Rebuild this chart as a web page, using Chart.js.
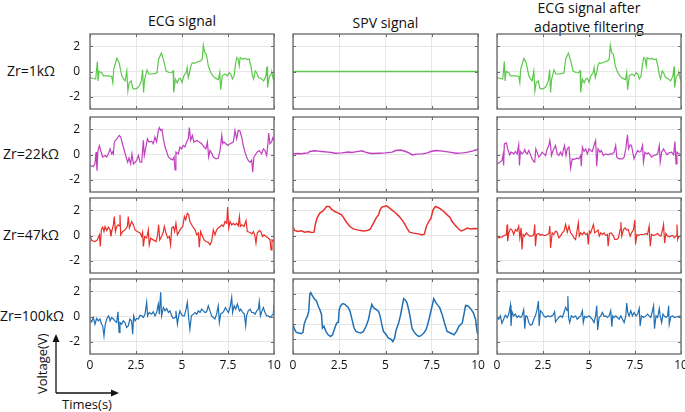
<!DOCTYPE html>
<html>
<head>
<meta charset="utf-8">
<script src="https://cdn.jsdelivr.net/npm/chart.js@4.4.1/dist/chart.umd.min.js"></script>
<style>
    html, body { margin: 0; padding: 0; background: #fff; }
    #fig { position: relative; width: 685px; height: 412px; overflow: hidden; font-family: 'Open Sans', sans-serif; color: #111; }
    #fig canvas { position: absolute; }
    .lbl { position: absolute; text-align: center; white-space: nowrap; }
    .ttl { font-size: 14px; line-height: 19px; }
    .row { font-size: 14px; line-height: 18px; }
</style>
</head>
<body>
<div id="fig">
    <div class="lbl ttl" style="left:90px;top:11px;width:184px;">ECG signal</div>
    <div class="lbl ttl" style="left:293px;top:13px;width:185px;">SPV signal</div>
    <div class="lbl ttl" style="left:497px;top:-2px;width:184px;">ECG signal after<br>adaptive filtering</div>
    <div class="lbl row" style="left:0;top:62px;width:62px;">Zr=1kΩ</div>
    <div class="lbl row" style="left:0;top:145px;width:62px;">Zr=22kΩ</div>
    <div class="lbl row" style="left:0;top:226px;width:62px;">Zr=47kΩ</div>
    <div class="lbl row" style="left:0;top:307px;width:64px;">Zr=100kΩ</div>
    <svg style="position:absolute;left:0;top:0;" width="685" height="412">
        <line x1="56" y1="393" x2="56" y2="341" stroke="#111" stroke-width="1.3"/>
        <polygon points="56,334 52.5,342 59.5,342" fill="#111"/>
        <line x1="56" y1="393" x2="112" y2="393" stroke="#111" stroke-width="1.3"/>
        <polygon points="119,393 111,389.5 111,396.5" fill="#111"/>
    </svg>
    <div class="lbl" style="left:12px;top:356px;width:60px;font-size:13px;line-height:16px;transform:rotate(-90deg);">Voltage(V)</div>
    <div class="lbl" style="left:57px;top:396px;width:60px;font-size:13px;line-height:16px;">Times(s)</div>
</div>
<script>
'use strict';

// time (s), voltage (V) pairs
var ecg1k = [[0,-0.48],[0.18,-0.56],[0.31,-0.6],[0.4,0.8],[0.44,-0.75],[0.49,0],[0.64,-0.1],[0.73,-0.35],[1.0,-0.35],[1.18,-0.4],[1.24,-0.9],[1.29,0.2],[1.46,1.05],[1.58,0.7],[1.73,-0.35],[1.82,-0.6],[1.91,-0.75],[2.0,0.05],[2.06,-1.55],[2.13,-0.9],[2.24,-0.75],[2.33,-1.35],[2.42,-1.4],[2.55,-1.35],[2.68,-1.15],[2.79,-0.75],[2.86,0.13],[2.91,-1.68],[2.97,-0.6],[3.1,0.13],[3.19,-0.2],[3.37,-0.2],[3.55,-0.15],[3.64,-0.1],[3.73,1.0],[3.88,1.47],[4.01,0.85],[4.13,0.05],[4.28,-0.08],[4.43,-0.1],[4.52,0.05],[4.55,-1.68],[4.64,-0.6],[4.74,-0.9],[4.83,-0.6],[4.92,-0.55],[5.0,-0.88],[5.1,-0.35],[5.23,-0.08],[5.28,0.3],[5.34,-0.5],[5.41,-0.1],[5.48,0.45],[5.56,0.7],[5.65,0.65],[5.74,0.7],[5.88,0.78],[6.01,0.85],[6.1,1.0],[6.16,2.1],[6.23,1.5],[6.32,1.4],[6.43,0.45],[6.56,-0.08],[6.68,-0.35],[6.83,-0.55],[6.98,-0.65],[7.05,-0.08],[7.1,-1.45],[7.19,-0.35],[7.34,-0.2],[7.47,-0.35],[7.56,-0.1],[7.65,-0.2],[7.74,-0.6],[7.83,-0.35],[7.92,0.7],[7.98,1.12],[8.05,1.0],[8.11,0.45],[8.16,1.1],[8.29,1.0],[8.43,1.05],[8.56,0.95],[8.65,1.0],[8.74,0.45],[8.83,-0.35],[8.89,-0.6],[8.98,0.05],[9.05,-0.08],[9.16,-0.48],[9.29,-0.56],[9.44,-0.75],[9.56,-0.35],[9.62,0.4],[9.65,-1.28],[9.74,-0.48],[9.84,-0.2],[9.89,-0.13],[9.96,-0.6],[10,-0.75]];

var ecg22k = [[0,-0.88],[0.18,-0.97],[0.27,-0.75],[0.33,0.2],[0.38,-1.3],[0.43,0.3],[0.51,0.72],[0.58,0.32],[0.69,-0.2],[0.82,-0.08],[0.91,-0.2],[1.0,0.05],[1.09,0.45],[1.18,0.05],[1.23,0.2],[1.27,0.05],[1.32,1.0],[1.45,1.25],[1.59,1.53],[1.67,1.4],[1.81,0.6],[1.96,-0.2],[2.05,-0.62],[2.12,-0.27],[2.21,-0.75],[2.28,0.05],[2.36,-0.75],[2.45,-0.62],[2.54,-0.48],[2.63,-0.08],[2.72,-0.62],[2.81,-0.62],[2.9,1.13],[2.95,-0.08],[3.04,0.6],[3.12,1.25],[3.21,1.0],[3.35,1.07],[3.44,0.86],[3.53,1.4],[3.62,1.0],[3.7,1.8],[3.77,2.15],[3.84,1.93],[3.91,2.0],[3.99,1.25],[4.08,0.6],[4.17,0.2],[4.26,-0.2],[4.38,-0.35],[4.49,-0.43],[4.57,-0.2],[4.62,-1.23],[4.67,0.2],[4.8,0.05],[4.89,0.6],[4.98,0.45],[5.07,0.72],[5.16,0.6],[5.25,1.0],[5.34,1.25],[5.4,2.15],[5.47,1.13],[5.56,1.53],[5.65,1.0],[5.8,1.13],[5.94,1.0],[6.07,0.86],[6.2,0.6],[6.3,0.45],[6.38,1.0],[6.45,-0.2],[6.52,0.32],[6.63,0.05],[6.7,-0.2],[6.85,-0.35],[6.97,-0.3],[7.07,0.32],[7.16,1.53],[7.21,0.86],[7.28,1.0],[7.39,0.86],[7.48,0.72],[7.61,0.86],[7.79,1.0],[7.88,1.93],[7.97,1.25],[8.06,1.93],[8.15,1.88],[8.24,1.4],[8.33,0.72],[8.42,0.2],[8.51,-0.2],[8.6,-0.48],[8.7,-0.62],[8.79,-0.43],[8.84,-1.42],[8.91,-0.2],[9.02,0.05],[9.09,0.2],[9.2,0.32],[9.33,0.05],[9.42,0.45],[9.51,0.32],[9.6,-0.08],[9.67,0.86],[9.71,1.72],[9.78,0.86],[9.87,1.0],[9.93,1.33],[10,1.13]];

var ecg47k = [[0,0.05],[0.09,-0.4],[0.27,-0.48],[0.4,-0.35],[0.51,0.05],[0.56,-0.88],[0.62,0.5],[0.69,0.67],[0.76,0.32],[0.82,0.72],[0.91,0.4],[1.0,0.67],[1.09,0.45],[1.14,-0.08],[1.2,0.45],[1.27,0.85],[1.32,1.52],[1.38,0.32],[1.45,0.72],[1.54,0.85],[1.59,0.77],[1.63,1.65],[1.67,0.05],[1.78,0.32],[1.9,0.45],[2.03,0.72],[2.08,1.52],[2.14,0.6],[2.26,1.12],[2.36,0.85],[2.45,0.45],[2.57,0.32],[2.72,0.2],[2.81,-0.08],[2.86,0.24],[2.9,-0.88],[2.97,-0.08],[3.08,-0.2],[3.17,0.45],[3.22,-0.75],[3.3,-0.2],[3.44,-0.35],[3.59,-0.48],[3.66,-0.08],[3.73,0.85],[3.79,-0.35],[3.89,-0.08],[3.99,0.32],[4.04,0.72],[4.13,0.2],[4.22,-0.2],[4.31,-0.08],[4.38,-0.75],[4.44,0.6],[4.53,0.72],[4.6,0.32],[4.67,0.98],[4.75,0.05],[4.89,0.45],[5.04,0.72],[5.13,1.52],[5.2,1.25],[5.29,1.78],[5.36,1.65],[5.43,1.12],[5.58,0.72],[5.71,0.45],[5.8,0.05],[5.89,0.2],[5.94,-0.93],[6.01,0.32],[6.12,-0.08],[6.2,-0.35],[6.3,-0.48],[6.43,-0.56],[6.52,-0.75],[6.61,-0.48],[6.7,0.45],[6.79,0.05],[6.88,0.45],[6.97,0.6],[7.07,0.72],[7.16,0.85],[7.25,0.72],[7.34,1.12],[7.43,0.98],[7.48,2.27],[7.54,0.6],[7.61,1.12],[7.7,0.85],[7.79,0.98],[7.88,0.85],[7.97,0.98],[8.06,0.77],[8.12,1.52],[8.17,0.72],[8.26,0.85],[8.37,0.72],[8.48,1.2],[8.55,0.32],[8.7,0.24],[8.8,0.13],[8.88,0.32],[8.95,0.05],[9.02,-0.61],[9.09,0.2],[9.2,0.4],[9.28,0.32],[9.38,-0.08],[9.46,0.05],[9.57,-0.08],[9.69,-0.2],[9.78,-0.35],[9.84,-1.15],[9.89,-0.35],[10,-0.48]];

var ecg100k = [[0,-0.2],[0.09,-0.43],[0.18,-0.08],[0.27,-0.62],[0.36,-0.16],[0.45,-0.35],[0.54,-0.2],[0.63,-0.62],[0.69,-0.75],[0.76,-1.55],[0.83,-0.62],[0.91,-0.2],[1.0,0.05],[1.05,-0.08],[1.09,-0.35],[1.18,-0.08],[1.27,-0.2],[1.36,-0.35],[1.45,-0.48],[1.52,0.38],[1.58,-1.28],[1.63,-0.48],[1.72,-0.62],[1.81,-0.35],[1.9,-0.48],[1.99,-0.88],[2.08,-0.75],[2.17,-0.2],[2.26,-0.35],[2.32,-1.42],[2.37,0.05],[2.45,-0.35],[2.54,-0.16],[2.63,-0.2],[2.72,0.1],[2.81,0.05],[2.9,-0.08],[2.99,0.19],[3.08,1.13],[3.13,0.05],[3.22,0.32],[3.35,0.19],[3.44,0.38],[3.53,0.05],[3.62,0.32],[3.71,1.0],[3.77,0.19],[3.84,1.93],[3.89,0.05],[3.99,0.72],[4.08,0.45],[4.17,0.64],[4.26,0.32],[4.35,0.45],[4.44,0.05],[4.53,-0.16],[4.62,-0.08],[4.67,0.45],[4.75,-0.62],[4.82,0.05],[4.89,0.45],[4.96,0.19],[5.04,0.05],[5.13,0.05],[5.22,0.59],[5.29,1.13],[5.36,-0.08],[5.43,-1.02],[5.51,0.05],[5.62,0.19],[5.71,0.32],[5.8,0.19],[5.89,0.45],[5.98,0.32],[6.07,0.59],[6.16,0.45],[6.25,0.32],[6.34,0.38],[6.43,0.86],[6.52,0.45],[6.61,0.05],[6.7,-0.08],[6.79,-0.2],[6.88,0.19],[6.97,0.86],[7.03,-0.48],[7.1,0.19],[7.21,0.32],[7.28,0.45],[7.36,0.72],[7.43,0.54],[7.52,0.32],[7.61,0.72],[7.7,1.53],[7.75,0.32],[7.83,0.86],[7.92,0.59],[8.01,1.0],[8.12,0.45],[8.19,0.59],[8.3,0.32],[8.39,0.19],[8.46,-0.75],[8.51,0.05],[8.6,0.45],[8.7,0.59],[8.79,0.32],[8.88,0.32],[8.97,0.19],[9.06,0.45],[9.15,0.59],[9.2,1.18],[9.26,0.05],[9.35,0.45],[9.42,0.72],[9.51,0.32],[9.6,0.05],[9.69,0.05],[9.78,-0.08],[9.87,0.05],[9.96,0.19],[10,0.91]];

var spv1k = [[0,0],[10,0]];

var spv22k = [[0,0.05],[0.27,0.08],[0.45,0.06],[0.64,0.1],[0.82,0.13],[0.91,0.24],[1.18,0.29],[1.36,0.27],[1.55,0.24],[1.91,0.19],[2.09,0.16],[2.27,0.1],[2.64,0.13],[3.0,0.19],[3.18,0.17],[3.36,0.21],[3.55,0.25],[3.73,0.29],[3.91,0.19],[4.09,0.12],[4.27,0.08],[4.64,0.1],[5.0,0.13],[5.36,0.19],[5.55,0.32],[5.82,0.35],[6.09,0.24],[6.27,0.13],[6.45,-0.03],[6.64,0.03],[7.0,0.05],[7.27,0.13],[7.45,0.24],[7.73,0.32],[8.09,0.27],[8.45,0.19],[8.82,0.1],[9.18,0.13],[9.45,0.19],[9.73,0.29],[10,0.43]];

var spv47k = [[0,0.67],[0.09,0.4],[0.27,0.32],[0.45,0.37],[0.63,0.27],[0.82,0.32],[1.0,0.24],[1.14,0.27],[1.2,0.85],[1.3,1.39],[1.45,1.79],[1.59,1.92],[1.72,2.13],[1.81,2.32],[1.96,2.32],[2.08,2.11],[2.26,1.92],[2.45,1.79],[2.63,1.65],[2.75,1.39],[2.9,1.04],[3.08,0.72],[3.26,0.53],[3.53,0.43],[3.8,0.37],[4.02,0.4],[4.17,0.5],[4.35,0.99],[4.49,1.39],[4.62,1.65],[4.71,2.05],[4.8,2.27],[4.93,2.32],[5.07,2.37],[5.22,2.19],[5.34,2.05],[5.52,1.84],[5.71,1.57],[5.89,1.25],[6.01,0.99],[6.16,0.59],[6.3,0.27],[6.52,0.19],[6.79,0.13],[6.97,0.05],[7.1,0.11],[7.21,0.72],[7.34,1.12],[7.46,1.39],[7.57,2.05],[7.7,2.32],[7.83,2.24],[7.97,2.13],[8.15,1.92],[8.33,1.65],[8.48,1.47],[8.6,1.12],[8.79,0.77],[8.97,0.5],[9.09,0.37],[9.24,0.45],[9.42,0.59],[9.6,0.53],[9.78,0.56],[10,0.53]];

var spv100k = [[0,-0.04],[0.09,-0.38],[0.18,-0.56],[0.33,-0.6],[0.45,-0.65],[0.54,-0.56],[0.6,-0.04],[0.69,0.3],[0.78,0.52],[0.85,0.86],[0.91,2.0],[0.96,2.1],[1.03,1.92],[1.14,1.69],[1.27,1.54],[1.36,1.2],[1.45,0.97],[1.54,0.64],[1.59,-0.27],[1.67,-0.15],[1.78,-0.49],[1.9,-0.72],[2.03,-0.83],[2.14,-0.72],[2.26,-0.27],[2.36,0.07],[2.45,0.12],[2.5,0.97],[2.57,1.2],[2.68,1.36],[2.81,1.31],[2.9,1.2],[2.99,1.09],[3.08,0.86],[3.17,0.41],[3.3,-0.27],[3.41,-0.49],[3.53,-0.56],[3.66,-0.6],[3.8,-0.51],[3.95,-0.15],[4.08,0.3],[4.17,0.86],[4.26,1.31],[4.35,1.09],[4.49,0.97],[4.62,0.86],[4.71,0.52],[4.8,-0.04],[4.89,-0.49],[5.04,-0.72],[5.16,-0.94],[5.29,-1.01],[5.4,-1.17],[5.49,-0.94],[5.58,-0.38],[5.71,0.07],[5.8,0.52],[5.89,1.09],[5.98,1.69],[6.07,1.6],[6.16,1.42],[6.25,0.97],[6.34,0.41],[6.43,-0.27],[6.52,-0.49],[6.67,-0.72],[6.79,-0.83],[6.92,-0.78],[7.07,-0.6],[7.19,-0.38],[7.28,-0.04],[7.39,0.52],[7.52,1.2],[7.61,1.69],[7.7,1.47],[7.79,1.31],[7.93,1.09],[8.06,0.64],[8.19,0.07],[8.33,-0.49],[8.51,-0.6],[8.7,-0.72],[8.84,-0.49],[8.97,-0.15],[9.15,0.07],[9.24,0.64],[9.33,1.24],[9.46,1.2],[9.6,1.02],[9.75,0.75],[9.87,0.3],[9.96,-0.6],[10,-0.65]];

var filt1k = ecg1k;

var filt22k = [[0,-0.75],[0.18,-0.61],[0.27,-0.48],[0.33,-0.03],[0.36,-0.88],[0.4,0.85],[0.51,0.93],[0.58,0.45],[0.69,-0.03],[0.76,0.19],[0.84,0.13],[0.91,0.05],[1.0,0.24],[1.09,0.05],[1.18,0.77],[1.22,-0.88],[1.27,0.24],[1.36,0.05],[1.45,0.19],[1.51,0.4],[1.55,0.19],[1.64,0.05],[1.73,0.32],[1.78,0.13],[1.91,-0.35],[2.0,-0.56],[2.05,-0.61],[2.11,0.45],[2.18,0.19],[2.27,-0.21],[2.36,-0.08],[2.45,0.19],[2.55,0.05],[2.64,-0.08],[2.73,0.45],[2.82,0.72],[2.87,1.12],[2.91,0.72],[2.96,-0.08],[3.05,0.32],[3.18,0.72],[3.27,0.05],[3.36,-0.08],[3.45,0.19],[3.55,-0.08],[3.6,0.32],[3.67,0.72],[3.75,-0.08],[3.82,0.45],[3.91,0.59],[4.0,-1.09],[4.09,-0.35],[4.18,-0.4],[4.33,-0.29],[4.45,-0.35],[4.55,-0.08],[4.58,-0.93],[4.64,0.59],[4.73,0.24],[4.82,0.45],[4.91,0.05],[5.0,0.45],[5.09,0.32],[5.18,0.24],[5.27,0.72],[5.36,1.12],[5.42,-0.93],[5.49,0.45],[5.6,0.19],[5.67,0.32],[5.78,-0.08],[5.91,0.05],[6.04,-0.03],[6.15,0.05],[6.27,0.05],[6.36,0.19],[6.45,0.72],[6.51,-0.21],[6.64,-0.35],[6.82,-0.35],[6.91,-0.21],[7.0,0.45],[7.09,1.57],[7.15,0.45],[7.24,0.77],[7.31,0.72],[7.36,0.32],[7.45,-0.35],[7.55,0.05],[7.64,0.32],[7.73,0.19],[7.82,0.24],[7.91,0.72],[7.96,-0.61],[8.04,0.19],[8.15,0.05],[8.22,0.13],[8.33,-0.03],[8.4,-0.21],[8.51,-0.08],[8.64,-0.03],[8.73,0.05],[8.82,0.72],[8.87,-0.61],[8.95,0.19],[9.05,0.45],[9.13,0.24],[9.24,-0.03],[9.36,0.13],[9.49,0.19],[9.6,-0.03],[9.67,1.04],[9.73,-0.75],[9.78,0.19],[9.91,0.05],[10,-0.08]];

var filt47k = [[0,0],[0.09,-0.19],[0.27,-0.11],[0.4,0],[0.51,0.08],[0.55,0.88],[0.58,-0.45],[0.64,0.21],[0.73,0.53],[0.82,0.43],[0.91,0.08],[1.0,0.48],[1.09,0.35],[1.18,0.75],[1.24,-0.19],[1.31,0.61],[1.36,-1.12],[1.42,0.08],[1.49,-0.05],[1.6,0.21],[1.67,0.08],[1.78,-0.05],[1.91,-0.05],[2.0,0.08],[2.05,0.88],[2.09,-0.85],[2.15,0.08],[2.27,0.16],[2.36,0],[2.45,0.08],[2.55,0],[2.64,0],[2.73,0.08],[2.82,0.16],[2.87,0.75],[2.91,-0.99],[3.0,0.21],[3.09,0.08],[3.18,0.35],[3.27,0.27],[3.36,-0.19],[3.45,-0.05],[3.55,0.21],[3.64,0.35],[3.73,0.88],[3.82,0.27],[3.91,0.75],[4.0,0.21],[4.09,0.08],[4.18,-0.19],[4.27,-0.32],[4.36,0.48],[4.42,1.01],[4.47,-0.05],[4.55,0.21],[4.64,0.08],[4.73,0.27],[4.82,0.08],[4.91,0.16],[4.96,-0.72],[5.02,0.35],[5.09,0.21],[5.18,0.61],[5.24,0.88],[5.31,0.21],[5.42,0.35],[5.49,0.43],[5.56,-0.05],[5.64,0.21],[5.73,0.08],[5.82,0.21],[5.91,0],[6.0,0.08],[6.04,-0.85],[6.11,0.16],[6.22,0.21],[6.33,-0.05],[6.4,-0.32],[6.51,-0.32],[6.6,-0.19],[6.69,0.48],[6.73,1.07],[6.78,-0.05],[6.87,0.48],[6.96,0.61],[7.05,0.43],[7.13,0.48],[7.24,-0.05],[7.31,0.21],[7.42,0.48],[7.49,1.23],[7.53,-0.72],[7.6,0.08],[7.67,0],[7.78,0.08],[7.91,0.08],[8.0,0.08],[8.09,0.16],[8.18,0.08],[8.27,0.75],[8.33,-0.85],[8.4,0.08],[8.51,0],[8.64,0.08],[8.73,0.16],[8.82,0],[8.91,-0.05],[9.0,0.48],[9.05,0.88],[9.11,-0.59],[9.18,0.16],[9.27,-0.05],[9.36,-0.11],[9.45,-0.05],[9.55,0],[9.64,-0.19],[9.73,-0.05],[9.78,0.88],[9.82,-0.32],[9.87,-0.11],[10,0]];

var filt100k = [[0,-0.08],[0.09,-0.22],[0.18,0.05],[0.27,-0.54],[0.36,-0.22],[0.45,0.11],[0.55,-0.08],[0.64,0.19],[0.73,0.92],[0.76,-0.76],[0.82,0.38],[0.91,0.05],[1.0,0.19],[1.09,-0.08],[1.18,0.05],[1.27,-0.08],[1.36,0.05],[1.45,0.54],[1.51,-0.97],[1.56,0.05],[1.64,0],[1.73,-0.49],[1.82,-0.7],[1.91,-0.62],[2.0,-0.22],[2.09,0.05],[2.18,0.59],[2.25,1.24],[2.29,-0.76],[2.36,0.46],[2.45,0.32],[2.55,0.05],[2.64,-0.08],[2.73,0.05],[2.91,0],[3.05,0.11],[3.13,0.38],[3.18,-0.43],[3.27,-0.22],[3.36,-0.08],[3.45,0.05],[3.55,-0.08],[3.64,0.32],[3.73,0.73],[3.82,0.46],[3.85,1.62],[3.89,-0.08],[3.95,-0.49],[4.04,0.05],[4.15,-0.08],[4.27,0.05],[4.36,-0.22],[4.45,-0.08],[4.55,0.05],[4.64,0.46],[4.69,-0.49],[4.76,0],[4.87,-0.08],[5.0,0.05],[5.09,-0.08],[5.18,-0.22],[5.27,-0.49],[5.36,0.05],[5.42,0.86],[5.47,-1.08],[5.55,-0.08],[5.64,0.05],[5.73,0.32],[5.82,0],[5.91,0.05],[6.0,-0.08],[6.09,0.05],[6.18,0.46],[6.24,-0.81],[6.29,0.05],[6.36,-0.08],[6.45,0.05],[6.55,-0.08],[6.64,-0.22],[6.73,0.05],[6.82,-0.22],[6.91,-0.49],[7.0,0.05],[7.05,1.08],[7.11,0.32],[7.18,0.05],[7.27,0.46],[7.36,0.05],[7.45,0.32],[7.55,0.05],[7.64,0.19],[7.73,0.65],[7.78,-0.76],[7.85,0.05],[7.96,-0.08],[8.09,0.05],[8.18,0.19],[8.27,0.05],[8.36,-0.08],[8.45,0.46],[8.51,0.86],[8.56,-0.97],[8.64,0.05],[8.73,-0.08],[8.82,0.65],[8.87,0.05],[8.95,-0.49],[9.02,0.19],[9.09,0.05],[9.18,-0.08],[9.27,0.05],[9.33,0.86],[9.36,-0.62],[9.45,0],[9.55,0.05],[9.64,-0.08],[9.82,0],[10,0.05]];

var xTicks = [0, 2.5, 5, 7.5, 10];
var yTicks = [-2, 0, 2];
var yTicksSpv100k = [-1, 0, 1, 2];

var rowColors = ['#5cc84b', '#c040c0', '#e8302a', '#1f6fb5'];

var panels = [
    [ecg1k, spv1k, filt1k],
    [ecg22k, spv22k, filt22k],
    [ecg47k, spv47k, filt47k],
    [ecg100k, spv100k, filt100k]
];

var colLeft = [90, 293, 497];
var colWidth = [184, 185, 184];
var colLineWidth = [1.2, 1.5, 1.2];
var rowTop = [34, 117, 198, 279];
var plotH = 75;
var Y_W = 26, X_H = 22, PAD = 3, PAD_R = 12;

var boxPlugin = {
    id: 'boxFrame',
    afterDraw: function (chart) {
        var a = chart.chartArea;
        var ctx = chart.ctx;
        var xs = chart.scales.x, ys = chart.scales.y;
        ctx.save();
        ctx.strokeStyle = '#6a6a6a';
        ctx.lineWidth = 1;
        ctx.beginPath();
        xs.ticks.forEach(function (t) {
            var px = Math.round(xs.getPixelForValue(t.value)) + 0.5;
            ctx.moveTo(px, a.bottom); ctx.lineTo(px, a.bottom - 3);
            ctx.moveTo(px, a.top); ctx.lineTo(px, a.top + 3);
        });
        ys.ticks.forEach(function (t) {
            var py = Math.round(ys.getPixelForValue(t.value)) + 0.5;
            ctx.moveTo(a.left, py); ctx.lineTo(a.left + 3, py);
            ctx.moveTo(a.right, py); ctx.lineTo(a.right - 3, py);
        });
        ctx.stroke();
        ctx.lineWidth = 1.4;
        ctx.strokeStyle = '#707070';
        ctx.strokeRect(a.left, a.top, a.right - a.left, a.bottom - a.top);
        ctx.restore();
    }
};

function noLabelPadding(s) {
    s.paddingTop = 0;
    s.paddingBottom = 0;
    s.paddingLeft = 0;
    s.paddingRight = 0;
}

function makePanel(r, c) {
    var fig = document.getElementById('fig');
    var canvas = document.createElement('canvas');
    var w = colWidth[c] + Y_W + PAD + PAD_R;
    var h = plotH + X_H + 2 * PAD;
    canvas.width = w;
    canvas.height = h;
    canvas.style.left = (colLeft[c] - Y_W - PAD) + 'px';
    canvas.style.top = (rowTop[r] - PAD) + 'px';
    canvas.style.width = w + 'px';
    canvas.style.height = h + 'px';
    fig.appendChild(canvas);

    var isSpv100k = (r === 3 && c === 1);
    var ticksY = isSpv100k ? yTicksSpv100k : yTicks;
    var pts = panels[r][c].map(function (p) { return { x: p[0], y: p[1] }; });
    var tickFont = { family: "'Open Sans', sans-serif", size: 12 };

    new Chart(canvas, {
        type: 'line',
        data: {
            datasets: [{
                data: pts,
                borderColor: rowColors[r],
                borderWidth: colLineWidth[c],
                pointRadius: 0,
                tension: 0,
                fill: false
            }]
        },
        options: {
            responsive: false,
            animation: false,
            devicePixelRatio: 1,
            layout: { padding: { left: PAD, top: PAD, bottom: PAD, right: PAD_R } },
            plugins: { legend: { display: false }, tooltip: { enabled: false } },
            scales: {
                x: {
                    type: 'linear',
                    min: 0,
                    max: 10,
                    afterBuildTicks: function (s) { s.ticks = xTicks.map(function (v) { return { value: v }; }); },
                    afterFit: function (s) { s.height = X_H; noLabelPadding(s); },
                    grid: { color: '#e6e6e6', drawTicks: false },
                    border: { display: false },
                    ticks: { display: r === 3, padding: 4, color: '#111', font: tickFont, maxRotation: 0, autoSkip: false }
                },
                y: {
                    min: isSpv100k ? -2 : -3,
                    max: 3,
                    afterBuildTicks: function (s) { s.ticks = ticksY.map(function (v) { return { value: v }; }); },
                    afterFit: function (s) { s.width = Y_W; noLabelPadding(s); },
                    grid: { color: '#e6e6e6', drawTicks: false },
                    border: { display: false },
                    ticks: { display: c === 0, padding: 10, color: '#111', font: tickFont, autoSkip: false }
                }
            }
        },
        plugins: [boxPlugin]
    });
}

for (var r = 0; r < 4; r++) {
    for (var c = 0; c < 3; c++) makePanel(r, c);
}
</script>
</body>
</html>
